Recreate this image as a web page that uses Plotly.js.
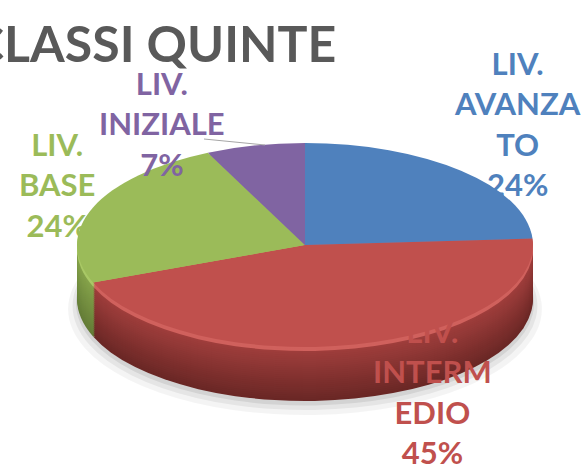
<!DOCTYPE html>
<html><head><meta charset="utf-8">
<script src="https://cdn.plot.ly/plotly-3.0.1.min.js"></script>
<style>html,body{margin:0;padding:0;background:#fff}#chart{width:582px;height:465px}</style>
</head><body><div id="chart"></div>
<script>
// ---- data ----
const categories = ['LIV. AVANZATO', 'LIV. INTERMEDIO', 'LIV. BASE', 'LIV. INIZIALE'];
const values = [24, 45, 24, 7];
const labelLines = [['LIV.', 'AVANZA', 'TO'], ['LIV.', 'INTERM', 'EDIO'], ['LIV.', 'BASE'], ['LIV.', 'INIZIALE']];
const chartTitle = 'CLASSI QUINTE';

// ---- style ----
const W = 582, H = 465;
const topColors = ['#4f81bd', '#c0504d', '#9bbb59', '#8064a2'];
const sideTop = ['#42699a', '#a4403e', '#88a64c', '#6c558b'];
const sideBottom = ['#2e4d75', '#6a2725', '#647c37', '#4e3d66'];
const hiColors = ['#5d8fcb', '#d0615d', '#a9c866', '#8e72b0'];
const CX = 305, CY = 245, R0 = 102, SX = 2.235, DEPTH = 54, STEP = 2;

function dom(cy, r) { return {x: [(CX - r) / W, (CX + r) / W], y: [(H - cy - r) / H, (H - cy + r) / H]}; }
function hex(c) { return [1, 3, 5].map(i => parseInt(c.substr(i, 2), 16)); }
function mix(a, b, t) { const A = hex(a), B = hex(b); return 'rgb(' + A.map((v, i) => Math.round(v + (B[i] - v) * t)).join(',') + ')'; }

function pieLayer(cy, r, colors) {
  return {
    type: 'pie', labels: categories, values: values, sort: false, direction: 'clockwise', rotation: 0,
    domain: dom(cy, r), textinfo: 'none', hoverinfo: 'skip', showlegend: false,
    marker: {colors: colors, line: {width: 0}}
  };
}

const traces = [];
// soft shadow
[[DEPTH + 10, R0 + 4, 0.045], [DEPTH + 7, R0 + 2, 0.06], [DEPTH + 4, R0 + 0.5, 0.08]].forEach(s => {
  traces.push(pieLayer(CY + s[0], s[1], categories.map(() => 'rgba(0,0,0,' + s[2] + ')')));
});
// side of the disc
for (let d = DEPTH; d >= STEP; d -= STEP) {
  const t = 1 - d / DEPTH;
  const cols = d <= 4 ? hiColors : categories.map((_, i) => mix(sideBottom[i], sideTop[i], t));
  traces.push(pieLayer(CY + d, R0, cols));
}
// top face
traces.push(pieLayer(CY, R0, topColors));

const total = values.reduce((a, b) => a + b, 0);
const labelPos = [[517, 123], [432, 391], [57, 184], [162, 124]];
const ann = [{
  text: chartTitle, x: 338 / W, y: 1 - 43 / H, xref: 'paper', yref: 'paper', xanchor: 'right', yanchor: 'middle',
  showarrow: false, font: {family: 'Lato', size: 50, color: '#595959', weight: 'bold'}
}];
labelLines.forEach((lines, i) => {
  ann.push({
    text: lines.join('<br>') + '<br>' + Math.round(values[i] / total * 100) + '%',
    x: labelPos[i][0] / W, y: 1 - labelPos[i][1] / H, xref: 'paper', yref: 'paper',
    xanchor: 'center', yanchor: 'middle', align: 'center', showarrow: false,
    font: {family: 'Lato', size: 31, color: topColors[i], weight: 'bold'}
  });
});

const layout = {
  width: W, height: H, margin: {l: 0, r: 0, t: 0, b: 0}, paper_bgcolor: '#ffffff',
  showlegend: false, font: {family: 'Lato'}, annotations: ann,
  shapes: [{type: 'line', xref: 'paper', yref: 'paper', x0: 204 / W, y0: 1 - 139 / H, x1: 265 / W, y1: 1 - 145 / H,
    line: {color: '#a6a6a6', width: 1}}]
};

const gd = document.getElementById('chart');
function squash() {
  const g = gd.querySelector('.pielayer');
  if (g) g.setAttribute('transform', 'translate(' + CX + ',0) scale(' + SX + ',1) translate(' + (-CX) + ',0)');
}
Plotly.newPlot(gd, traces, layout, {staticPlot: true, displayModeBar: false}).then(squash);
</script></body></html>
